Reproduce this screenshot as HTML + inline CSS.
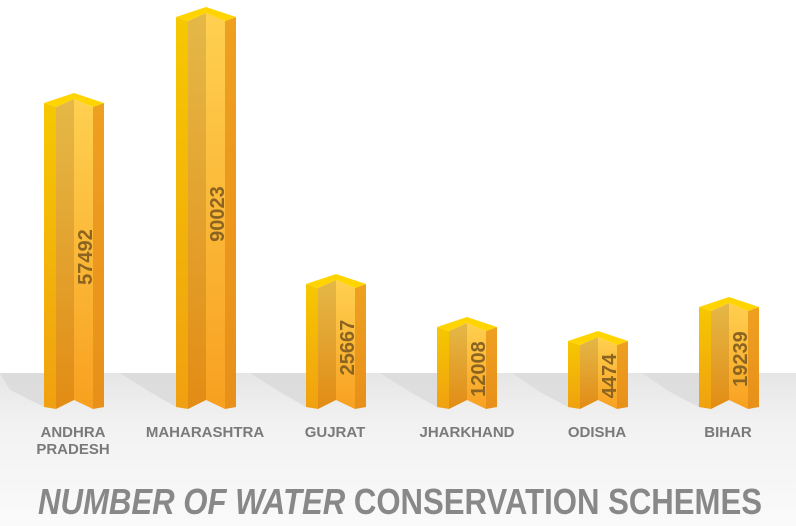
<!DOCTYPE html>
<html><head><meta charset="utf-8"><style>
html,body{margin:0;padding:0;background:#fff;}
svg{display:block;}
</style></head><body>
<svg width="796" height="526" viewBox="0 0 796 526" xmlns="http://www.w3.org/2000/svg">
<defs>
<linearGradient id="floor" x1="0" y1="0" x2="0" y2="1">
<stop offset="0" stop-color="#e6e6e6"/><stop offset="0.35" stop-color="#f2f2f2"/><stop offset="1" stop-color="#fafafa"/>
</linearGradient>
<linearGradient id="lf" x1="0" y1="0" x2="0" y2="1"><stop offset="0" stop-color="#f6c800"/><stop offset="1" stop-color="#f0a010"/></linearGradient>
<linearGradient id="ml" x1="0" y1="0" x2="0" y2="1"><stop offset="0" stop-color="#e4b848"/><stop offset="1" stop-color="#e28c14"/></linearGradient>
<linearGradient id="mr" x1="0" y1="0" x2="0" y2="1"><stop offset="0" stop-color="#ffd050"/><stop offset="1" stop-color="#f8a020"/></linearGradient>
<linearGradient id="rf" x1="0" y1="0" x2="0" y2="1"><stop offset="0" stop-color="#eea020"/><stop offset="1" stop-color="#e8901a"/></linearGradient>
</defs>
<rect x="0" y="373" width="796" height="153" fill="url(#floor)"/>
<g fill="#d8d8d8" opacity="0.7">
<polygon points="0,373 44,373 44,407 10,390"/>
<polygon points="120,373 176,373 176,407 150,392"/>
<polygon points="250,373 306,373 306,407 280,392"/>
<polygon points="380,373 437,373 437,407 410,392"/>
<polygon points="512,373 568,373 568,407 540,392"/>
<polygon points="642,373 699,373 699,407 670,392"/>
</g>
<g id="bars"></g>
<g font-family="Liberation Sans, sans-serif" font-weight="bold" font-size="15" fill="#7a7a7a" text-anchor="middle">
<text x="73" y="437">ANDHRA</text><text x="73" y="454">PRADESH</text>
<text x="205" y="437">MAHARASHTRA</text>
<text x="335" y="437">GUJRAT</text>
<text x="467" y="437">JHARKHAND</text>
<text x="597" y="437">ODISHA</text>
<text x="728" y="437">BIHAR</text>
</g>
<text x="38" y="514" font-family="Liberation Sans, sans-serif" font-weight="bold" font-size="36" fill="#888888" textLength="724" lengthAdjust="spacingAndGlyphs"><tspan font-style="italic">NUMBER OF WATER</tspan> CONSERVATION SCHEMES</text>
</svg>
<script>
var bars=[[44,93,"57492"],[176,7,"90023"],[306,274,"25667"],[437,317,"12008"],[568,331,"4474"],[699,297,"19239"]];
var g=document.getElementById('bars'),s='';
bars.forEach(function(b){var L=b[0],T=b[1],B=407;
s+='<polygon fill="url(#lf)" points="'+L+','+(T+10)+' '+(L+12)+','+(T+14)+' '+(L+12)+','+(B+2)+' '+L+','+B+'"/>';
s+='<polygon fill="url(#ml)" points="'+(L+12)+','+(T+14)+' '+(L+30)+','+(T+6)+' '+(L+30)+','+(B-7)+' '+(L+12)+','+(B+2)+'"/>';
s+='<polygon fill="url(#mr)" points="'+(L+30)+','+(T+6)+' '+(L+49)+','+(T+14)+' '+(L+49)+','+(B+2)+' '+(L+30)+','+(B-7)+'"/>';
s+='<polygon fill="url(#rf)" points="'+(L+49)+','+(T+14)+' '+(L+60)+','+(T+10)+' '+(L+60)+','+B+' '+(L+49)+','+(B+2)+'"/>';
s+='<polygon fill="#ffd400" points="'+L+','+(T+10)+' '+(L+30)+','+T+' '+(L+60)+','+(T+10)+' '+(L+49)+','+(T+14)+' '+(L+30)+','+(T+6)+' '+(L+12)+','+(T+14)+'"/>';
var cy=(T+14+B)/2;
s+='<text transform="translate('+(L+48)+','+cy+') rotate(-90)" text-anchor="middle" font-family="Liberation Sans, sans-serif" font-weight="bold" font-size="20" fill="#8a6420">'+b[2]+'</text>';});
g.innerHTML=s;
</script>
</body></html>
